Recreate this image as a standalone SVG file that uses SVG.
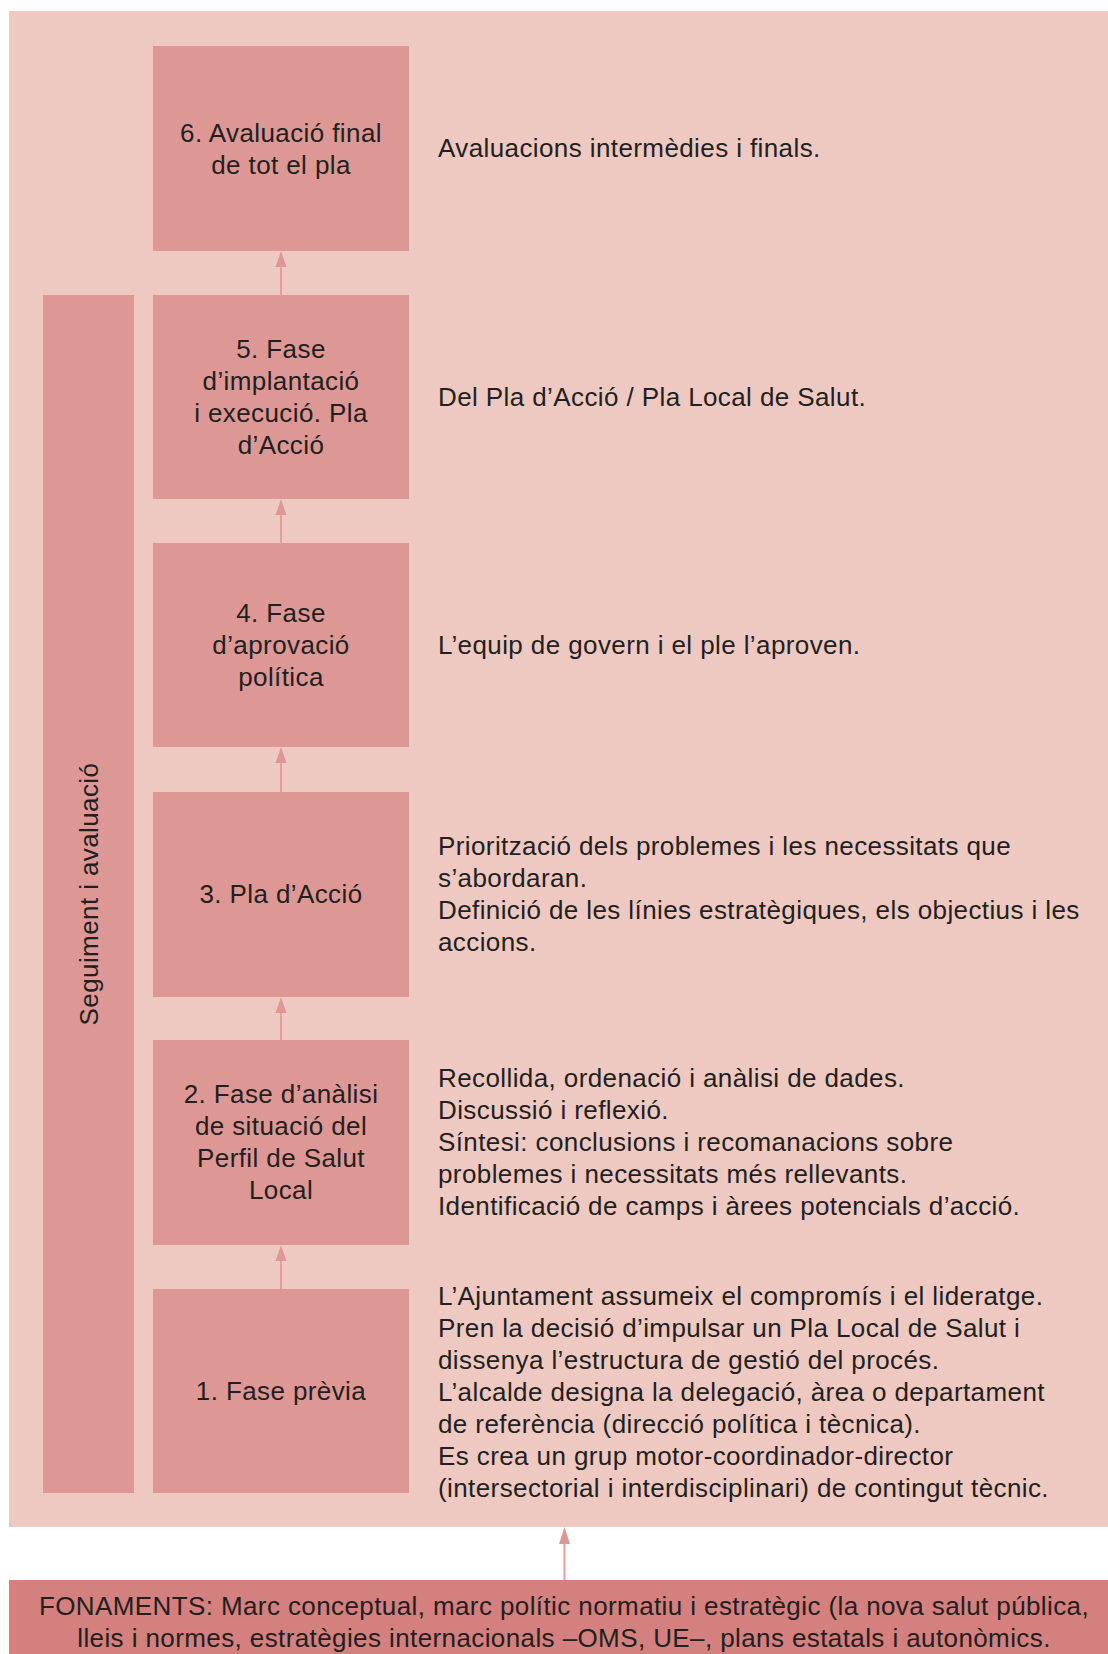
<svg xmlns="http://www.w3.org/2000/svg" width="1108" height="1654" viewBox="0 0 1108 1654">
<defs>
<style>
.bg{fill:#eec9c2}
.box{fill:#dd9896}
.base{fill:#d4807e}
text{font-family:"Liberation Sans",Arial,sans-serif;font-size:26px;letter-spacing:0.4px;fill:#231f20}
.c{text-anchor:middle}
.conn line{stroke:#e0a09d;stroke-width:2}
.conn path{fill:#dd9896}
</style>
</defs>
<rect class="bg" x="9" y="11" width="1111" height="1516"/>
<g id="seguiment">
<rect class="box" x="43" y="295" width="91" height="1198"/>
<text class="c" transform="translate(98,894) rotate(-90)">Seguiment i avaluació</text>
</g>
<g id="fase6">
<rect class="box" x="153" y="46" width="256" height="205"/>
<text class="c" x="281" y="142">6. Avaluació final</text>
<text class="c" x="281" y="174">de tot el pla</text>
<text x="438" y="157">Avaluacions intermèdies i finals.</text>
</g>
<g id="fase5">
<rect class="box" x="153" y="295" width="256" height="204"/>
<text class="c" x="281" y="358">5. Fase</text>
<text class="c" x="281" y="390">d’implantació</text>
<text class="c" x="281" y="422">i execució. Pla</text>
<text class="c" x="281" y="454">d’Acció</text>
<text x="438" y="406">Del Pla d’Acció / Pla Local de Salut.</text>
</g>
<g id="fase4">
<rect class="box" x="153" y="543" width="256" height="204"/>
<text class="c" x="281" y="622">4. Fase</text>
<text class="c" x="281" y="654">d’aprovació</text>
<text class="c" x="281" y="686">política</text>
<text x="438" y="654">L’equip de govern i el ple l’aproven.</text>
</g>
<g id="fase3">
<rect class="box" x="153" y="792" width="256" height="205"/>
<text class="c" x="281" y="903">3. Pla d’Acció</text>
<text x="438" y="855">Priorització dels problemes i les necessitats que</text>
<text x="438" y="887">s’abordaran.</text>
<text x="438" y="919">Definició de les línies estratègiques, els objectius i les</text>
<text x="438" y="951">accions.</text>
</g>
<g id="fase2">
<rect class="box" x="153" y="1040" width="256" height="205"/>
<text class="c" x="281" y="1103">2. Fase d’anàlisi</text>
<text class="c" x="281" y="1135">de situació del</text>
<text class="c" x="281" y="1167">Perfil de Salut</text>
<text class="c" x="281" y="1199">Local</text>
<text x="438" y="1087">Recollida, ordenació i anàlisi de dades.</text>
<text x="438" y="1119">Discussió i reflexió.</text>
<text x="438" y="1151">Síntesi: conclusions i recomanacions sobre</text>
<text x="438" y="1183">problemes i necessitats més rellevants.</text>
<text x="438" y="1215">Identificació de camps i àrees potencials d’acció.</text>
</g>
<g id="fase1">
<rect class="box" x="153" y="1289" width="256" height="204"/>
<text class="c" x="281" y="1400">1. Fase prèvia</text>
<text x="438" y="1305">L’Ajuntament assumeix el compromís i el lideratge.</text>
<text x="438" y="1337">Pren la decisió d’impulsar un Pla Local de Salut i</text>
<text x="438" y="1369">dissenya l’estructura de gestió del procés.</text>
<text x="438" y="1401">L’alcalde designa la delegació, àrea o departament</text>
<text x="438" y="1433">de referència (direcció política i tècnica).</text>
<text x="438" y="1465">Es crea un grup motor-coordinador-director</text>
<text x="438" y="1497">(intersectorial i interdisciplinari) de contingut tècnic.</text>
</g>
<g id="fonaments">
<rect class="base" x="9" y="1580" width="1111" height="74"/>
<text class="c" x="564" y="1615">FONAMENTS: Marc conceptual, marc polític normatiu i estratègic (la nova salut pública,</text>
<text class="c" x="564" y="1647">lleis i normes, estratègies internacionals –OMS, UE–, plans estatals i autonòmics.</text>
</g>
<g id="connectors" class="conn">
<line x1="281" y1="295" x2="281" y2="262"/><path d="M281 251 L275.5 267 L286.5 267 Z"/>
<line x1="281" y1="543" x2="281" y2="510"/><path d="M281 499 L275.5 515 L286.5 515 Z"/>
<line x1="281" y1="792" x2="281" y2="758"/><path d="M281 747 L275.5 763 L286.5 763 Z"/>
<line x1="281" y1="1040" x2="281" y2="1008"/><path d="M281 997 L275.5 1013 L286.5 1013 Z"/>
<line x1="281" y1="1289" x2="281" y2="1256"/><path d="M281 1245 L275.5 1261 L286.5 1261 Z"/>
<line x1="564.5" y1="1580" x2="564.5" y2="1539"/><path d="M564.5 1527 L559 1544 L570 1544 Z"/>
</g>
</svg>
